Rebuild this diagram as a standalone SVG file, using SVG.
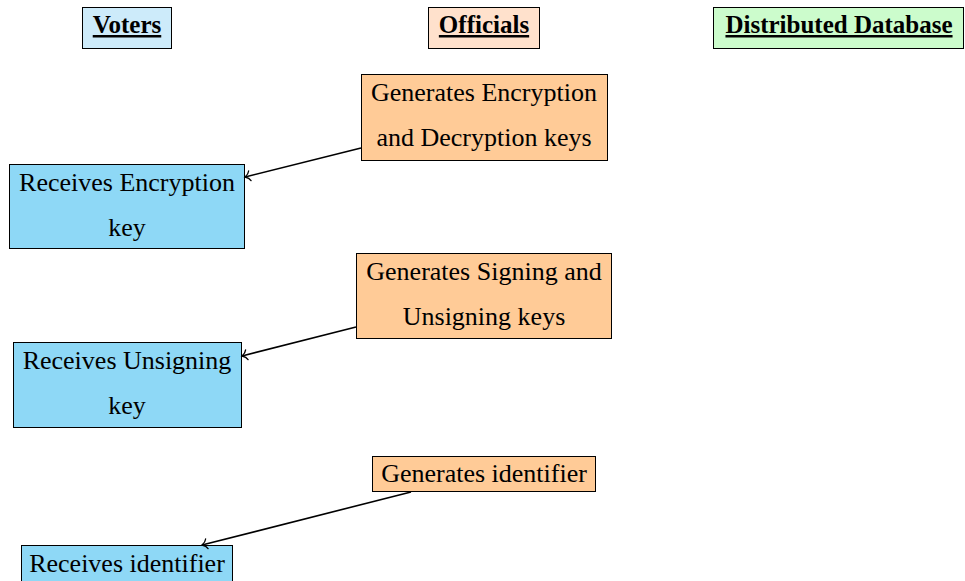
<svg xmlns="http://www.w3.org/2000/svg" width="965" height="581" viewBox="0 0 965 581">
  <defs>
    <style>
      text { font-family: "Liberation Serif", "Times New Roman", serif; font-size: 26px; fill: #000; text-anchor: middle; }
      .hdr { font-size: 25px; font-weight: bold; text-decoration: underline; }
      rect { stroke: #000; stroke-width: 1; }
      .voter { fill: #8ed8f6; }
      .official { fill: #ffcb97; }
      .conn { fill: none; stroke: #000; stroke-width: 1.6; }
    </style>
    <marker id="to" viewBox="-6 -6 8 12" markerWidth="8" markerHeight="12" refX="0" refY="0" orient="auto" markerUnits="userSpaceOnUse">
      <path d="M-5,-5 C-4,-2 -1,-0.5 0,0 C-1,0.5 -4,2 -5,5" fill="none" stroke="#000" stroke-width="1.3" stroke-linecap="round"/>
    </marker>
  </defs>

  <!-- column headers -->
  <g id="hdr-voters">
    <rect x="82.5" y="7.5" width="89" height="41" fill="#cdebfa"/>
    <text class="hdr" x="127" y="33">Voters</text>
  </g>
  <g id="hdr-officials">
    <rect x="428.5" y="7.5" width="111" height="41" fill="#ffe1cc"/>
    <text class="hdr" x="484" y="33">Officials</text>
  </g>
  <g id="hdr-database">
    <rect x="713.5" y="7.5" width="250" height="41" fill="#ccfccc"/>
    <text class="hdr" x="839" y="33">Distributed Database</text>
  </g>

  <!-- officials -->
  <g id="gen-enc">
    <rect class="official" x="361.5" y="74.5" width="246" height="86"/>
    <text x="484" y="101">Generates Encryption</text>
    <text x="484" y="146">and Decryption keys</text>
  </g>
  <g id="gen-sign">
    <rect class="official" x="356.5" y="253.5" width="255" height="85"/>
    <text x="484" y="280">Generates Signing and</text>
    <text x="484" y="325">Unsigning keys</text>
  </g>
  <g id="gen-id">
    <rect class="official" x="372.5" y="456.5" width="223" height="35"/>
    <text x="484" y="482">Generates identifier</text>
  </g>

  <!-- voters -->
  <g id="recv-enc">
    <rect class="voter" x="9.5" y="164.5" width="235" height="84"/>
    <text x="127" y="191">Receives Encryption</text>
    <text x="127" y="236">key</text>
  </g>
  <g id="recv-unsign">
    <rect class="voter" x="13.5" y="342.5" width="228" height="85"/>
    <text x="127" y="369">Receives Unsigning</text>
    <text x="127" y="414">key</text>
  </g>
  <g id="recv-id">
    <rect class="voter" x="21.5" y="545.5" width="211" height="40"/>
    <text x="127" y="572">Receives identifier</text>
  </g>

  <!-- connectors -->
  <g id="connectors">
    <line class="conn" x1="361" y1="148" x2="245" y2="177" marker-end="url(#to)"/>
    <line class="conn" x1="356" y1="327" x2="242" y2="356" marker-end="url(#to)"/>
    <line class="conn" x1="411" y1="492" x2="202" y2="545" marker-end="url(#to)"/>
  </g>
</svg>
